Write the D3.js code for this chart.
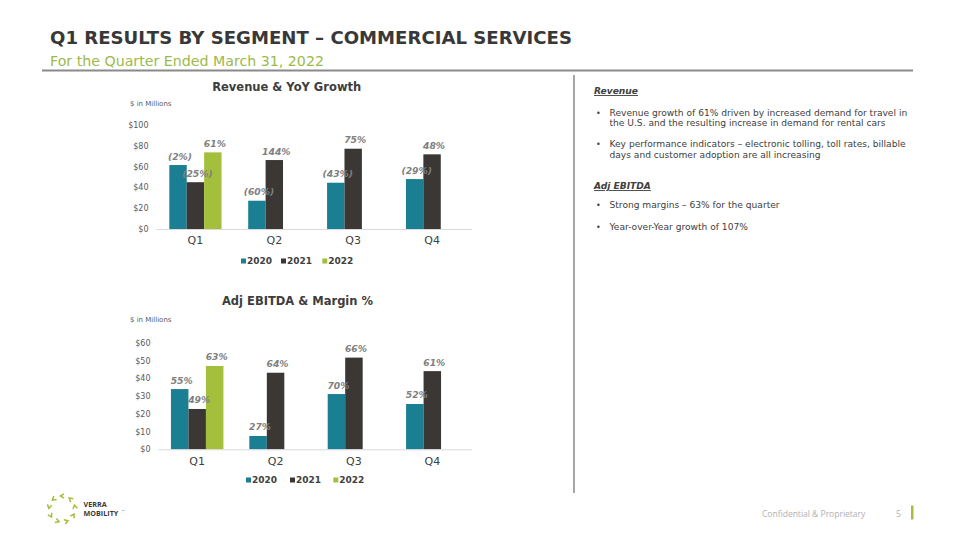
<!DOCTYPE html>
<html>
<head>
<meta charset="utf-8">
<script src="https://cdn.jsdelivr.net/npm/d3@7"></script>
<style>
  html, body { margin: 0; padding: 0; background: #ffffff; }
  svg { display: block; }
  .dv { font-family: "DejaVu Sans", "Verdana", sans-serif; }
  .os { font-family: "Open Sans", sans-serif; }
</style>
</head>
<body>
<svg id="slide" width="960" height="540"></svg>
<script>
// ---------- DATA ----------
const quarters = ["Q1", "Q2", "Q3", "Q4"];
const years = ["2020", "2021", "2022"];

const revenue2020 = [61.5, 27.2, 44.5, 48.0];
const revenue2021 = [45.0, 66.3, 77.2, 71.8];
const revenue2022 = [73.7, null, null, null];
const revenueGrowth2020 = ["(2%)", "(60%)", "(43%)", "(29%)"];
const revenueGrowth2021 = ["(25%)", "144%", "75%", "48%"];
const revenueGrowth2022 = ["61%", null, null, null];
const revenueTicks = [0, 20, 40, 60, 80, 100];

const ebitda2020 = [33.9, 7.5, 31.1, 25.5];
const ebitda2021 = [22.7, 43.1, 51.6, 44.0];
const ebitda2022 = [46.9, null, null, null];
const margin2020 = ["55%", "27%", "70%", "52%"];
const margin2021 = ["49%", "64%", "66%", "61%"];
const margin2022 = ["63%", null, null, null];
const ebitdaTicks = [0, 10, 20, 30, 40, 50, 60];

const pageTitle = "Q1 RESULTS BY SEGMENT \u2013 COMMERCIAL SERVICES";
const pageSubtitle = "For the Quarter Ended March 31, 2022";
const revenueBullets = [
  ["Revenue growth of 61% driven by increased demand for travel in", "the U.S. and the resulting increase in demand for rental cars"],
  ["Key performance indicators \u2013 electronic tolling, toll rates, billable", "days and customer adoption are all increasing"]
];
const ebitdaBullets = [
  ["Strong margins \u2013 63% for the quarter"],
  ["Year-over-Year growth of 107%"]
];

// ---------- STYLE ----------
const colors = { "2020": "#1b7f93", "2021": "#3b3734", "2022": "#a3bf3b" };

const svg = d3.select("#slide");

// ---------- HEADER ----------
svg.append("text").attr("class", "dv").attr("x", 50).attr("y", 44)
  .attr("font-weight", "bold").attr("font-size", 18.1)
  .attr("fill", "#383838").text(pageTitle);
svg.append("text").attr("class", "dv").attr("x", 50).attr("y", 66)
  .attr("font-size", 14.2)
  .attr("fill", "#9cba4a").text(pageSubtitle);
svg.append("line").attr("x1", 42).attr("x2", 913).attr("y1", 70.5).attr("y2", 70.5)
  .attr("stroke", "#8a8a8a").attr("stroke-width", 2);
svg.append("line").attr("x1", 574).attr("x2", 574).attr("y1", 75).attr("y2", 493)
  .attr("stroke", "#8a8a8a").attr("stroke-width", 1.5);

// ---------- CHART BUILDER ----------
function drawChart(cfg) {
  const g = svg.append("g");
  const series = [
    { year: "2020", values: cfg.v2020, labels: cfg.l2020 },
    { year: "2021", values: cfg.v2021, labels: cfg.l2021 },
    { year: "2022", values: cfg.v2022, labels: cfg.l2022 }
  ];
  const x = d3.scaleBand().domain(quarters).range(cfg.xRange).paddingInner(0).paddingOuter(0);
  const xs = d3.scaleBand().domain(years).range([0, x.bandwidth()]).paddingInner(0).paddingOuter(cfg.subPad);
  const y = d3.scaleLinear().domain([0, cfg.yMax]).range(cfg.yRange);

  g.append("text").attr("class", "dv").attr("x", cfg.titleX).attr("y", cfg.titleY).attr("text-anchor", "middle")
    .attr("font-weight", "bold").attr("font-size", 11.5)
    .attr("fill", "#3d3d3d").text(cfg.title);
  g.append("text").attr("class", "dv").attr("x", 130).attr("y", cfg.unitY)
    .attr("font-size", 7).attr("fill", "#595959").text("$ in Millions");

  const ya = g.append("g").attr("transform", `translate(${cfg.yAxisX},0)`)
    .call(d3.axisLeft(y).tickValues(cfg.ticks).tickSize(0).tickPadding(4).tickFormat(d => "$" + d));
  ya.select(".domain").remove();
  ya.attr("font-family", null);
  ya.selectAll("text").attr("class", "dv").attr("font-size", 8).attr("fill", "#595959");

  series.forEach(s => {
    const data = quarters.map((q, i) => ({ q, v: s.values[i], l: s.labels[i] })).filter(d => d.v != null);
    g.selectAll(null).data(data).enter().append("rect")
      .attr("x", d => x(d.q) + xs(s.year))
      .attr("width", xs.bandwidth())
      .attr("y", d => y(d.v))
      .attr("height", d => y(0) - y(d.v))
      .attr("fill", colors[s.year]);
  });
  series.forEach(s => {
    const data = quarters.map((q, i) => ({ q, v: s.values[i], l: s.labels[i] })).filter(d => d.v != null && d.l);
    g.selectAll(null).data(data).enter().append("text").attr("class", "dv")
      .attr("x", d => x(d.q) + xs(s.year) + xs.bandwidth() / 2 + 2)
      .attr("y", d => y(d.v) - 5.5)
      .attr("text-anchor", "middle")
      .attr("font-weight", "bold").attr("font-style", "italic")
      .attr("font-size", 9.2).attr("fill", "#808080")
      .text(d => d.l);
  });

  const xa = g.append("g").attr("transform", `translate(0,${cfg.yRange[0]})`)
    .call(d3.axisBottom(x).tickSize(0).tickPadding(cfg.xPad));
  xa.attr("font-family", null);
  xa.select(".domain").attr("stroke", "#d9d9d9").attr("stroke-width", 1);
  xa.selectAll("text").attr("class", "dv").attr("font-size", 11).attr("fill", "#404040");

  const lg = g.append("g");
  years.forEach((yr, i) => {
    const lx = cfg.legendX[i];
    lg.append("rect").attr("x", lx).attr("y", cfg.legendY - 2.5).attr("width", 5).attr("height", 5)
      .attr("fill", colors[yr]);
    lg.append("text").attr("class", "dv").attr("x", lx + 6).attr("y", cfg.legendY + 3.3)
      .attr("font-weight", "bold").attr("font-size", 9)
      .attr("fill", "#404040").text(yr);
  });
}

drawChart({
  title: "Revenue & YoY Growth", titleX: 286.7, titleY: 91, unitY: 106,
  v2020: revenue2020, v2021: revenue2021, v2022: revenue2022,
  l2020: revenueGrowth2020, l2021: revenueGrowth2021, l2022: revenueGrowth2022,
  xRange: [156, 471.5], subPad: 0.765, yMax: 100, yRange: [229, 125], ticks: revenueTicks,
  yAxisX: 152.5, xPad: 7.6, legendX: [241, 281, 322.3], legendY: 261
});

drawChart({
  title: "Adj EBITDA & Margin %", titleX: 297.5, titleY: 305, unitY: 322,
  v2020: ebitda2020, v2021: ebitda2021, v2022: ebitda2022,
  l2020: margin2020, l2021: margin2021, l2022: margin2022,
  xRange: [158, 471.5], subPad: 0.74, yMax: 60, yRange: [449.3, 342.7], ticks: ebitdaTicks,
  yAxisX: 154.5, xPad: 8, legendX: [246, 290, 333.3], legendY: 480
});

// ---------- RIGHT PANEL TEXT ----------
const tp = svg.append("g").attr("font-size", 9.1).attr("fill", "#404040");
function heading(txt, yy) {
  tp.append("text").attr("class", "dv").attr("x", 594).attr("y", yy).attr("font-weight", "bold")
    .attr("font-style", "italic").attr("text-decoration", "underline").text(txt);
}
function bullets(list, startY) {
  let yy = startY;
  list.forEach(lines => {
    tp.append("text").attr("class", "dv").attr("x", 596).attr("y", yy).attr("font-size", 8).text("\u2022");
    lines.forEach((ln, j) => {
      tp.append("text").attr("class", "dv").attr("x", 609.5).attr("y", yy + j * 10.6).text(ln);
    });
    yy += (lines.length - 1) * 10.6 + 21.2;
  });
}
heading("Revenue", 94);
bullets(revenueBullets, 115.5);
heading("Adj EBITDA", 189);
bullets(ebitdaBullets, 208.3);

// ---------- FOOTER ----------
svg.append("text").attr("class", "os").attr("x", 762).attr("y", 517)
  .attr("font-size", 8.5).attr("fill", "#b0b0b0")
  .text("Confidential & Proprietary");
svg.append("text").attr("class", "os").attr("x", 896).attr("y", 517)
  .attr("font-size", 8.5).attr("fill", "#b0b0b0")
  .text("5");
svg.append("rect").attr("x", 911).attr("y", 505.5).attr("width", 2.5).attr("height", 14)
  .attr("fill", "#a3bf3b");

// logo
const logo = svg.append("g").attr("transform", "translate(62,509)");
d3.range(9).forEach(i => {
  const a = (i / 9) * 2 * Math.PI - Math.PI / 2;
  const r = 13;
  logo.append("path")
    .attr("d", "M2,-2.2 L-1.6,0 L2,2.2")
    .attr("fill", "none").attr("stroke", "#a3bf3b").attr("stroke-width", 1.5)
    .attr("transform", `translate(${r * Math.cos(a)},${r * Math.sin(a)}) rotate(${a * 180 / Math.PI + 90})`);
});
svg.append("text").attr("class", "os").attr("x", 83.5).attr("y", 506.5)
  .attr("font-weight", "bold").attr("font-size", 7.2)
  .attr("fill", "#3a3a3a").text("VERRA");
svg.append("text").attr("class", "os").attr("x", 83.5).attr("y", 515.5)
  .attr("font-weight", "bold").attr("font-size", 7.2)
  .attr("fill", "#3a3a3a").text("MOBILITY");
svg.append("text").attr("class", "os").attr("x", 121.5).attr("y", 511)
  .attr("font-size", 2.2)
  .attr("fill", "#3a3a3a").text("TM");
</script>
</body>
</html>
